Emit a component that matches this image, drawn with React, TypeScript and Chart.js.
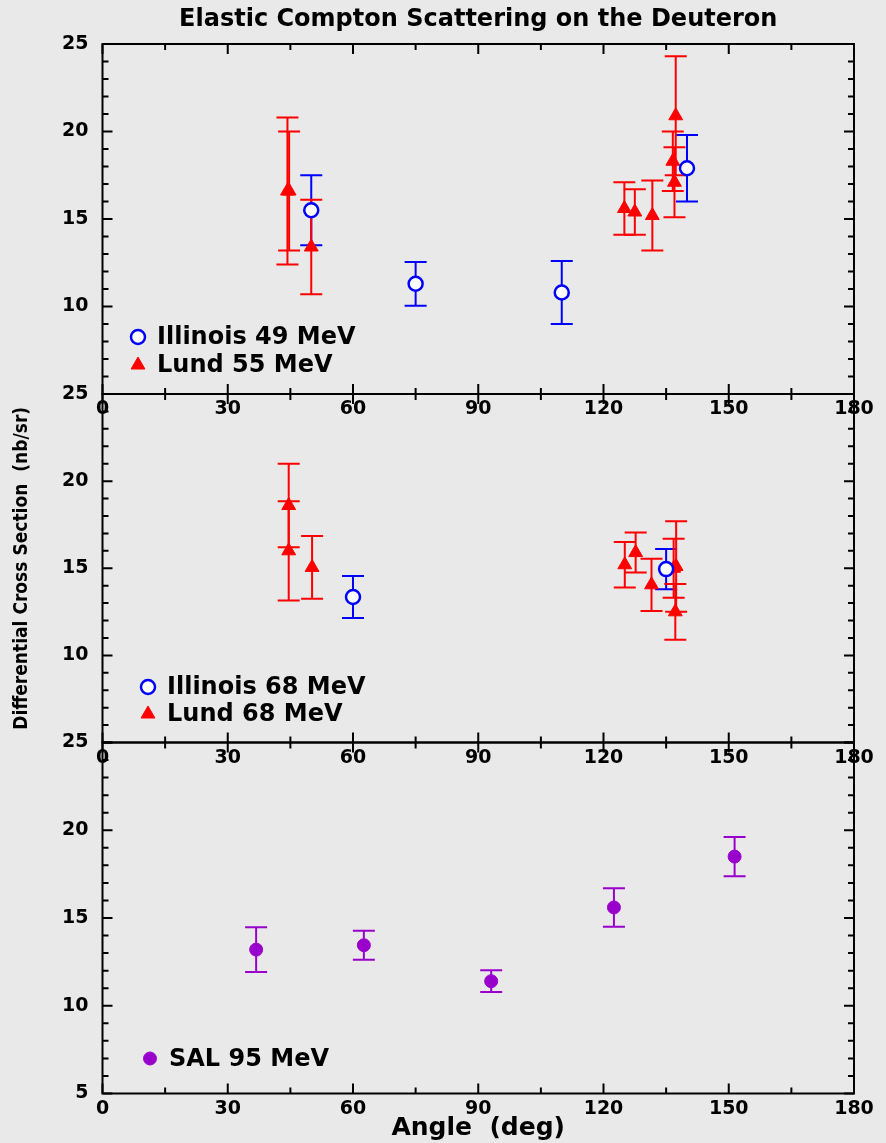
import React, { useEffect, useRef } from 'react';
import { Chart, registerables } from 'chart.js';

Chart.register(...registerables);

// ---------- text ----------
const TITLE = 'Elastic Compton Scattering on the Deuteron';
const Y_TITLE = 'Differential Cross Section  (nb/sr)';
const X_TITLE = 'Angle  (deg)';

// ---------- axes ----------
const X_MIN = 0;
const X_MAX = 180;
const X_STEP = 30;
const X_MINOR = 15;
const Y_MIN = 5;
const Y_MAX = 25;
const Y_STEP = 5;
const Y_MINOR = 1;

// ---------- panel 1 ----------
const ill49Label = 'Illinois 49 MeV';
const ill49Angle = [50, 75, 110, 140];
const ill49Value = [15.5, 11.3, 10.8, 17.9];
const ill49Error = [2.0, 1.25, 1.8, 1.9];

const lund55Label = 'Lund 55 MeV';
const lund55Angle = [44.3, 44.7, 50, 125, 127.5, 131.7, 136.6, 137.0, 137.3];
const lund55Value = [16.6, 16.6, 13.4, 15.6, 15.4, 15.2, 18.3, 17.1, 20.9];
const lund55Error = [4.2, 3.4, 2.7, 1.5, 1.3, 2.0, 1.7, 2.0, 3.4];

// ---------- panel 2 ----------
const ill68Label = 'Illinois 68 MeV';
const ill68Angle = [60, 135];
const ill68Value = [13.35, 14.95];
const ill68Error = [1.2, 1.15];

const lund68Label = 'Lund 68 MeV';
const lund68Angle = [44.6, 44.6, 50.2, 125.1, 127.7, 131.5, 136.8, 137.4, 137.2];
const lund68Value = [18.6, 16.0, 15.05, 15.2, 15.9, 14.05, 15.0, 15.1, 12.5];
const lund68Error = [2.4, 2.85, 1.8, 1.3, 1.15, 1.5, 1.7, 2.6, 1.6];

// ---------- panel 3 ----------
const sal95Label = 'SAL 95 MeV';
const sal95Angle = [36.8, 62.6, 93.1, 122.5, 151.4];
const sal95Value = [13.2, 13.45, 11.4, 15.6, 18.5];
const sal95Error = [1.28, 0.83, 0.62, 1.1, 1.12];

// ---------- styles ----------
const W = 886;
const H = 1143;
const BG = '#e9e9e9';
const BLUE = '#0000ff';
const RED = '#ff0000';
const PURPLE = '#9900cc';
const FONT = "'DejaVu Sans', sans-serif";
const PLOT_LEFT = 102.5;
const PLOT_RIGHT = 854;

const makePoints = (xs: number[], ys: number[]) => xs.map((x, i) => ({ x, y: ys[i] }));

const illinoisStyle = (label: string, xs: number[], ys: number[], es: number[]) => ({
  label,
  data: makePoints(xs, ys),
  errors: es,
  pointStyle: 'circle',
  pointRadius: 7,
  backgroundColor: '#ffffff',
  borderColor: BLUE,
  pointBorderWidth: 2.5,
  showLine: false,
});

const lundStyle = (label: string, xs: number[], ys: number[], es: number[]) => ({
  label,
  data: makePoints(xs, ys),
  errors: es,
  pointStyle: 'triangle',
  pointRadius: 8,
  backgroundColor: RED,
  borderColor: RED,
  pointBorderWidth: 1,
  showLine: false,
});

const salStyle = (label: string, xs: number[], ys: number[], es: number[]) => ({
  label,
  data: makePoints(xs, ys),
  errors: es,
  pointStyle: 'circle',
  pointRadius: 6.5,
  backgroundColor: PURPLE,
  borderColor: PURPLE,
  pointBorderWidth: 1,
  showLine: false,
});

function drawMarker(ctx: CanvasRenderingContext2D, ds: any, x: number, y: number) {
  const r = ds.pointRadius;
  ctx.save();
  ctx.fillStyle = ds.backgroundColor;
  ctx.strokeStyle = ds.borderColor;
  ctx.lineWidth = ds.pointBorderWidth;
  ctx.beginPath();
  if (ds.pointStyle === 'triangle') {
    const c = Math.cos(Math.PI / 6) * r;
    ctx.moveTo(x, y - r);
    ctx.lineTo(x + c, y + r / 2);
    ctx.lineTo(x - c, y + r / 2);
    ctx.closePath();
  } else {
    ctx.arc(x, y, r, 0, Math.PI * 2);
  }
  ctx.fill();
  ctx.stroke();
  ctx.restore();
}

const decorPlugin = {
  id: 'panelDecor',
  beforeDatasetsDraw(chart: any) {
    const ctx = chart.ctx as CanvasRenderingContext2D;
    const xs = chart.scales.x;
    const ys = chart.scales.y;
    chart.data.datasets.forEach((ds: any) => {
      ctx.save();
      ctx.strokeStyle = ds.borderColor;
      ctx.lineWidth = 2;
      ds.data.forEach((p: any, i: number) => {
        const e = ds.errors[i];
        const px = xs.getPixelForValue(p.x);
        const top = ys.getPixelForValue(p.y + e);
        const bot = ys.getPixelForValue(p.y - e);
        ctx.beginPath();
        ctx.moveTo(px, top);
        ctx.lineTo(px, bot);
        ctx.moveTo(px - 11, top);
        ctx.lineTo(px + 11, top);
        ctx.moveTo(px - 11, bot);
        ctx.lineTo(px + 11, bot);
        ctx.stroke();
      });
      ctx.restore();
    });
  },
  afterDraw(chart: any, _args: any, opts: any) {
    const ctx = chart.ctx as CanvasRenderingContext2D;
    const xs = chart.scales.x;
    const ys = chart.scales.y;
    const { left, right, top, bottom } = chart.chartArea;
    ctx.save();
    ctx.strokeStyle = '#000';
    ctx.lineWidth = 2;
    ctx.strokeRect(left, top, right - left, bottom - top);
    ctx.beginPath();
    for (let v = X_MIN; v <= X_MAX; v += X_MINOR) {
      const len = v % X_STEP === 0 ? 10 : 6;
      const px = xs.getPixelForValue(v);
      ctx.moveTo(px, bottom);
      ctx.lineTo(px, bottom - len);
      ctx.moveTo(px, top);
      ctx.lineTo(px, top + len);
    }
    for (let v = Y_MIN; v <= Y_MAX; v += Y_MINOR) {
      const len = v % Y_STEP === 0 ? 10 : 6;
      const py = ys.getPixelForValue(v);
      ctx.moveTo(left, py);
      ctx.lineTo(left + len, py);
      ctx.moveTo(right, py);
      ctx.lineTo(right - len, py);
    }
    ctx.stroke();
    // legend
    const lx = left + opts.legendX;
    let ly = top + opts.legendY;
    ctx.font = `bold 24px ${FONT}`;
    ctx.fillStyle = '#000';
    ctx.textBaseline = 'middle';
    ctx.textAlign = 'left';
    chart.data.datasets.forEach((ds: any) => {
      drawMarker(ctx, ds, lx, ly);
      ctx.fillText(ds.label, lx + 19, ly + 1);
      ly += opts.legendGap;
    });
    ctx.restore();
  },
};

type PanelCfg = {
  datasets: any[];
  top: number;
  bottom: number;
  xHeight: number;
  showTitle: boolean;
  showYTitle: boolean;
  showXTitle: boolean;
  showBottomLabel: boolean;
  legendX: number;
  legendY: number;
  legendGap: number;
};

const panels: PanelCfg[] = [
  {
    datasets: [
      illinoisStyle(ill49Label, ill49Angle, ill49Value, ill49Error),
      lundStyle(lund55Label, lund55Angle, lund55Value, lund55Error),
    ],
    top: 44,
    bottom: 394,
    xHeight: 26,
    showTitle: true,
    showYTitle: false,
    showXTitle: false,
    showBottomLabel: false,
    legendX: 35.5,
    legendY: 293,
    legendGap: 28,
  },
  {
    datasets: [
      illinoisStyle(ill68Label, ill68Angle, ill68Value, ill68Error),
      lundStyle(lund68Label, lund68Angle, lund68Value, lund68Error),
    ],
    top: 394,
    bottom: 742.5,
    xHeight: 26,
    showTitle: false,
    showYTitle: true,
    showXTitle: false,
    showBottomLabel: false,
    legendX: 45.5,
    legendY: 293,
    legendGap: 27,
  },
  {
    datasets: [salStyle(sal95Label, sal95Angle, sal95Value, sal95Error)],
    top: 742.5,
    bottom: 1093.5,
    xHeight: 49.5,
    showTitle: false,
    showYTitle: false,
    showXTitle: true,
    showBottomLabel: true,
    legendX: 47.5,
    legendY: 316,
    legendGap: 27,
  },
];

function buildConfig(p: PanelCfg): any {
  const titleHeight = 44;
  return {
    type: 'scatter',
    data: { datasets: p.datasets },
    plugins: [decorPlugin],
    options: {
      responsive: false,
      animation: false,
      events: [],
      devicePixelRatio: 1,
      layout: {
        padding: {
          top: p.showTitle ? 0 : p.top,
          bottom: H - p.bottom - p.xHeight,
          left: 0,
          right: W - PLOT_RIGHT,
        },
      },
      plugins: {
        legend: { display: false },
        tooltip: { enabled: false },
        title: {
          display: p.showTitle,
          text: TITLE,
          fullSize: false,
          color: '#000',
          font: { family: FONT, size: 24, weight: 'bold', lineHeight: 1.2 },
          padding: { top: 5, bottom: titleHeight - 5 - 24 * 1.2 },
        },
        panelDecor: {
          legendX: p.legendX,
          legendY: p.legendY,
          legendGap: p.legendGap,
        },
      },
      scales: {
        x: {
          type: 'linear',
          min: X_MIN,
          max: X_MAX,
          grid: { display: false, drawTicks: false },
          border: { display: false },
          ticks: {
            stepSize: X_STEP,
            padding: 4,
            color: '#000',
            maxRotation: 0,
            autoSkip: false,
            font: { family: FONT, size: 19, weight: 'bold' },
          },
          title: {
            display: p.showXTitle,
            text: X_TITLE,
            color: '#000',
            font: { family: FONT, size: 25, weight: 'bold', lineHeight: 1.2 },
            padding: { top: 0, bottom: 0 },
          },
          afterFit: (s: any) => {
            s.height = p.xHeight;
          },
        },
        y: {
          type: 'linear',
          min: Y_MIN,
          max: Y_MAX,
          grid: { display: false, drawTicks: false },
          border: { display: false },
          ticks: {
            stepSize: Y_STEP,
            padding: 14,
            color: '#000',
            font: { family: FONT, size: 19, weight: 'bold' },
            callback: (v: number) => (v === Y_MIN && !p.showBottomLabel ? '' : String(v)),
          },
          title: {
            display: p.showYTitle,
            text: Y_TITLE,
            color: '#000',
            font: { family: "'DejaVu Sans Condensed', 'DejaVu Sans', sans-serif", size: 19, weight: 'bold', lineHeight: 1.2 },
            padding: { top: 11, bottom: 0 },
          },
          afterFit: (s: any) => {
            s.width = PLOT_LEFT;
          },
        },
      },
    },
  };
}

function Panel({ cfg }: { cfg: PanelCfg }) {
  const ref = useRef<HTMLCanvasElement | null>(null);
  useEffect(() => {
    if (!ref.current) return;
    const chart = new Chart(ref.current, buildConfig(cfg));
    return () => chart.destroy();
  }, [cfg]);
  return (
    <canvas
      ref={ref}
      width={W}
      height={H}
      style={{ position: 'absolute', left: 0, top: 0, width: W, height: H, pointerEvents: 'none' }}
    />
  );
}

export default function App() {
  return (
    <div style={{ position: 'fixed', left: 0, top: 0, width: W, height: H, background: BG, overflow: 'hidden' }}>
      {panels.map((p, i) => (
        <Panel key={i} cfg={p} />
      ))}
    </div>
  );
}
